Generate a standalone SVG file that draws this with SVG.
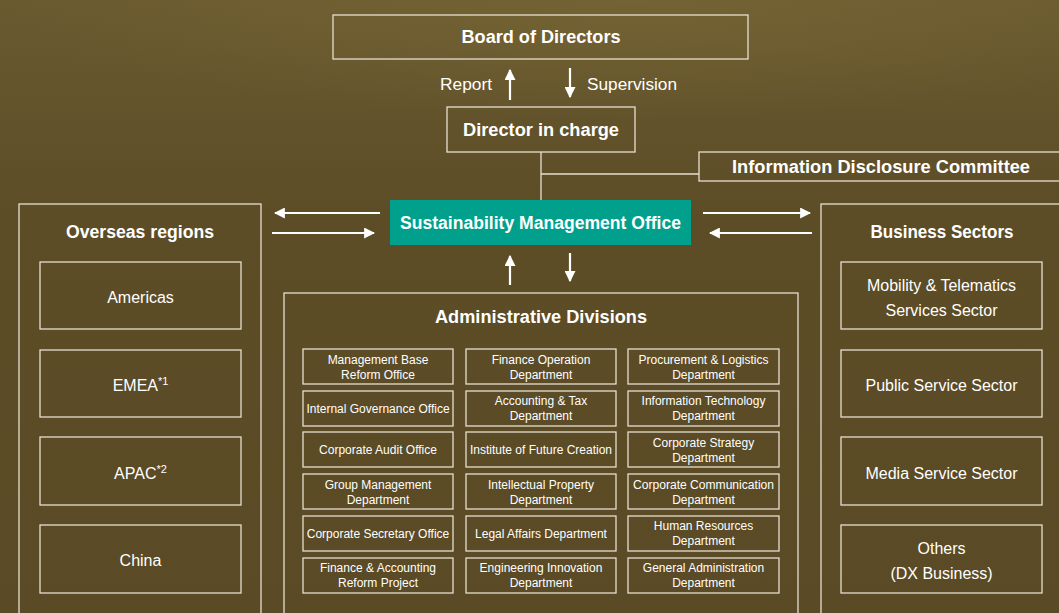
<svg xmlns="http://www.w3.org/2000/svg" width="1059" height="613" viewBox="0 0 1059 613">
<defs>
<linearGradient id="bg" x1="0" y1="0" x2="0" y2="1">
<stop offset="0" stop-color="#6a5a30"/>
<stop offset="0.35" stop-color="#5d4d27"/>
<stop offset="1" stop-color="#5a4a25"/>
</linearGradient>
<radialGradient id="glow" cx="0.6" cy="0" r="0.6">
<stop offset="0" stop-color="#7a6935" stop-opacity="0.6"/>
<stop offset="1" stop-color="#7a6935" stop-opacity="0"/>
</radialGradient>
<marker id="ah" viewBox="0 0 10 10" refX="9" refY="5" markerWidth="5" markerHeight="5" orient="auto" markerUnits="strokeWidth">
<path d="M0,0 L10,5 L0,10 Z" fill="#ffffff"/>
</marker>
</defs>
<style>
.box{fill:none;stroke:#e6dfd0;stroke-width:1.3}
.line{stroke:#e6dfd0;stroke-width:1.3;fill:none}
.arr{stroke:#ffffff;stroke-width:2.2;fill:none;marker-end:url(#ah)}
.h{font-family:"Liberation Sans",Arial,sans-serif;font-weight:bold;font-size:18px;fill:#ffffff;text-anchor:middle}
.m{font-family:"Liberation Sans",Arial,sans-serif;font-size:16px;fill:#ffffff;text-anchor:middle}
.s{font-family:"Liberation Sans",Arial,sans-serif;font-size:12px;fill:#ffffff;text-anchor:middle}
.lab{font-family:"Liberation Sans",Arial,sans-serif;font-size:16px;fill:#ffffff}
</style>
<rect x="0" y="0" width="1059" height="613" fill="url(#bg)"/>
<rect x="0" y="0" width="1059" height="200" fill="url(#glow)"/>

<g id="connectors">
<line class="line" x1="541" y1="152" x2="541" y2="200"/>
<line class="line" x1="541" y1="174" x2="699" y2="174"/>
<line class="arr" x1="510" y1="100" x2="510" y2="70"/>
<line class="arr" x1="570" y1="68" x2="570" y2="97"/>
<line class="arr" x1="380" y1="213" x2="275" y2="213"/>
<line class="arr" x1="272" y1="233" x2="374" y2="233"/>
<line class="arr" x1="703" y1="213" x2="810" y2="213"/>
<line class="arr" x1="812" y1="233" x2="710" y2="233"/>
<line class="arr" x1="510" y1="285" x2="510" y2="256"/>
<line class="arr" x1="570" y1="253" x2="570" y2="281"/>
<text class="lab" x="440" y="90" textLength="52" lengthAdjust="spacingAndGlyphs">Report</text>
<text class="lab" x="587" y="90" textLength="90" lengthAdjust="spacingAndGlyphs">Supervision</text>
</g>

<g id="board">
<rect class="box" x="333" y="15" width="415" height="44"/>
<text class="h" x="541" y="43" textLength="159" lengthAdjust="spacingAndGlyphs">Board of Directors</text>
</g>
<g id="director">
<rect class="box" x="447" y="107" width="188" height="45"/>
<text class="h" x="541" y="136" textLength="156" lengthAdjust="spacingAndGlyphs">Director in charge</text>
</g>
<g id="disclosure">
<rect class="box" x="699" y="152" width="370" height="29"/>
<text class="h" x="881" y="173" textLength="298" lengthAdjust="spacingAndGlyphs">Information Disclosure Committee</text>
</g>
<g id="smo">
<rect x="390" y="200" width="301" height="45" fill="#00a08d"/>
<text class="h" x="540.5" y="229" textLength="281" lengthAdjust="spacingAndGlyphs">Sustainability Management Office</text>
</g>

<g id="overseas">
<rect class="box" x="19" y="204" width="242" height="420"/>
<text class="h" x="140" y="238" textLength="148" lengthAdjust="spacingAndGlyphs">Overseas regions</text>
<rect class="box" x="40" y="262" width="201" height="67"/>
<text class="m" x="140.5" y="303">Americas</text>
<rect class="box" x="40" y="350" width="201" height="67"/>
<text class="m" x="140.5" y="391">EMEA<tspan font-size="11" dy="-6">*1</tspan></text>
<rect class="box" x="40" y="437" width="201" height="68"/>
<text class="m" x="140.5" y="479">APAC<tspan font-size="11" dy="-6">*2</tspan></text>
<rect class="box" x="40" y="525" width="201" height="68"/>
<text class="m" x="140.5" y="566">China</text>
</g>

<g id="business">
<rect class="box" x="821" y="204" width="250" height="420"/>
<text class="h" x="942" y="238" textLength="143" lengthAdjust="spacingAndGlyphs">Business Sectors</text>
<rect class="box" x="841" y="262" width="201" height="67"/>
<text class="m" x="941.5" y="291">Mobility &amp; Telematics</text>
<text class="m" x="941.5" y="316">Services Sector</text>
<rect class="box" x="841" y="350" width="201" height="67"/>
<text class="m" x="941.5" y="391">Public Service Sector</text>
<rect class="box" x="841" y="437" width="201" height="68"/>
<text class="m" x="941.5" y="479">Media Service Sector</text>
<rect class="box" x="841" y="525" width="201" height="68"/>
<text class="m" x="941.5" y="554">Others</text>
<text class="m" x="941.5" y="579">(DX Business)</text>
</g>

<g id="admin">
<rect class="box" x="284" y="293" width="514" height="330"/>
<text class="h" x="541" y="323" textLength="212" lengthAdjust="spacingAndGlyphs">Administrative Divisions</text>
</g>

<g id="grid">
<g id="c1">
<rect class="box" x="303" y="349" width="150" height="35"/>
<text class="s" x="378" y="364">Management Base</text><text class="s" x="378" y="379">Reform Office</text>
<rect class="box" x="303" y="391" width="150" height="35"/>
<text class="s" x="378" y="413">Internal Governance Office</text>
<rect class="box" x="303" y="432" width="150" height="35"/>
<text class="s" x="378" y="454">Corporate Audit Office</text>
<rect class="box" x="303" y="474" width="150" height="35"/>
<text class="s" x="378" y="489">Group Management</text><text class="s" x="378" y="504">Department</text>
<rect class="box" x="303" y="516" width="150" height="35"/>
<text class="s" x="378" y="538">Corporate Secretary Office</text>
<rect class="box" x="303" y="558" width="150" height="35"/>
<text class="s" x="378" y="572">Finance &amp; Accounting</text><text class="s" x="378" y="587">Reform Project</text>
</g>
<g id="c2">
<rect class="box" x="466" y="349" width="150" height="35"/>
<text class="s" x="541" y="364">Finance Operation</text><text class="s" x="541" y="379">Department</text>
<rect class="box" x="466" y="391" width="150" height="35"/>
<text class="s" x="541" y="405">Accounting &amp; Tax</text><text class="s" x="541" y="420">Department</text>
<rect class="box" x="466" y="432" width="150" height="35"/>
<text class="s" x="541" y="454">Institute of Future Creation</text>
<rect class="box" x="466" y="474" width="150" height="35"/>
<text class="s" x="541" y="489">Intellectual Property</text><text class="s" x="541" y="504">Department</text>
<rect class="box" x="466" y="516" width="150" height="35"/>
<text class="s" x="541" y="538">Legal Affairs Department</text>
<rect class="box" x="466" y="558" width="150" height="35"/>
<text class="s" x="541" y="572">Engineering Innovation</text><text class="s" x="541" y="587">Department</text>
</g>
<g id="c3">
<rect class="box" x="628" y="349" width="151" height="35"/>
<text class="s" x="703.5" y="364">Procurement &amp; Logistics</text><text class="s" x="703.5" y="379">Department</text>
<rect class="box" x="628" y="391" width="151" height="35"/>
<text class="s" x="703.5" y="405">Information Technology</text><text class="s" x="703.5" y="420">Department</text>
<rect class="box" x="628" y="432" width="151" height="35"/>
<text class="s" x="703.5" y="447">Corporate Strategy</text><text class="s" x="703.5" y="462">Department</text>
<rect class="box" x="628" y="474" width="151" height="35"/>
<text class="s" x="703.5" y="489" textLength="141" lengthAdjust="spacingAndGlyphs">Corporate Communication</text><text class="s" x="703.5" y="504">Department</text>
<rect class="box" x="628" y="516" width="151" height="35"/>
<text class="s" x="703.5" y="530">Human Resources</text><text class="s" x="703.5" y="545">Department</text>
<rect class="box" x="628" y="558" width="151" height="35"/>
<text class="s" x="703.5" y="572">General Administration</text><text class="s" x="703.5" y="587">Department</text>
</g>
</g>
</svg>
